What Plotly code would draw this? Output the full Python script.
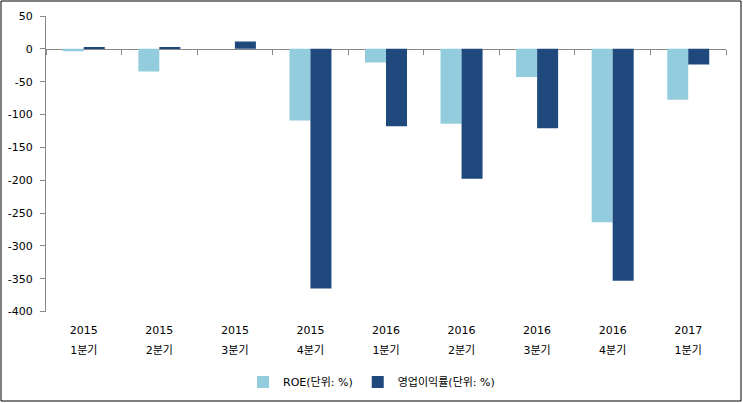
import plotly.graph_objects as go

years = ["2015", "2015", "2015", "2015", "2016", "2016", "2016", "2016", "2017"]
quarters = ["1분기", "2분기", "3분기", "4분기", "1분기", "2분기", "3분기", "4분기", "1분기"]
cats = [f"{y} {q}" for y, q in zip(years, quarters)]
roe = [-3.5, -34.5, 0, -109, -21, -114, -43, -264, -77.5]
op_margin = [2, 2, 11, -365, -118, -198, -121, -353, -24]
series_names = ["ROE(단위: %)", "영업이익률(단위: %)"]
colors = ["#93CDDD", "#1F497D"]
y_ticks = [50, 0, -50, -100, -150, -200, -250, -300, -350, -400]
y_tick_labels = [str(v) for v in y_ticks]  # ASCII hyphen as in the reference

FONT = "DejaVu Sans, Noto Sans CJK KR, sans-serif"
W, H = 743, 403
ML, MR, MT, MB = 46, 17, 16, 40
PW, PH = W - ML - MR, H - MT - MB
plot_bottom = 311.5
ydom0 = 1 - (plot_bottom - MT) / PH

fig = go.Figure()
fig.add_trace(go.Bar(x=cats, y=roe, name=series_names[0], marker_color=colors[0],
                     marker_line_width=0, xaxis="x", yaxis="y"))
fig.add_trace(go.Bar(x=cats, y=op_margin, name=series_names[1], marker_color=colors[1],
                     marker_line_width=0, xaxis="x", yaxis="y"))
# helper traces for the zero axis and the quarter-label axis
fig.add_trace(go.Scatter(x=cats, y=[None] * len(cats), xaxis="x2", yaxis="y",
                         showlegend=False, hoverinfo="skip", mode="markers"))
fig.add_trace(go.Scatter(x=cats, y=[None] * len(cats), xaxis="x3", yaxis="y",
                         showlegend=False, hoverinfo="skip", mode="markers"))

ymin, ymax = -400, 50
zero_pos = ydom0 + (0 - ymin) / (ymax - ymin) * (1 - ydom0)
q_line_px = 349 - 17.5
q_pos = 1 - (q_line_px - MT) / PH

common_x = dict(type="category", categoryorder="array", categoryarray=cats,
                range=[-0.5, len(cats) - 0.5], showgrid=False, zeroline=False)

fig.update_layout(
    width=W, height=H,
    margin=dict(l=ML, r=MR, t=MT, b=MB, autoexpand=False),
    paper_bgcolor="white", plot_bgcolor="white",
    font=dict(family=FONT, size=11, color="#000000"),
    barmode="group", bargap=0.444, bargroupgap=0,
    showlegend=True,
    legend=dict(orientation="h", xref="container", yref="container",
                x=0.5, xanchor="center", y=(H - 382) / H, yanchor="middle",
                font=dict(family=FONT, size=11), itemwidth=30,
                bgcolor="rgba(0,0,0,0)", traceorder="normal"),
    xaxis=dict(**common_x, anchor="y", showline=False, ticks="",
               tickmode="array", tickvals=cats, ticktext=years,
               tickfont=dict(family=FONT, size=11), ticklabelstandoff=10),
    xaxis2=dict(**common_x, overlaying="x", anchor="free", position=zero_pos,
                side="bottom", showline=True, linecolor="#868686", linewidth=1,
                ticks="outside", ticklen=5, tickcolor="#868686", tickwidth=1,
                tickson="boundaries", showticklabels=False, layer="below traces"),
    xaxis3=dict(**common_x, overlaying="x", anchor="free", position=q_pos,
                side="bottom", showline=False, ticks="",
                tickmode="array", tickvals=cats, ticktext=quarters,
                tickfont=dict(family=FONT, size=11), ticklabelstandoff=10),
    yaxis=dict(domain=[ydom0, 1], range=[ymin, ymax],
               tickmode="array", tickvals=y_ticks, ticktext=y_tick_labels,
               showgrid=False, zeroline=False, showline=True,
               linecolor="#868686", linewidth=1, ticks="outside", ticklen=5,
               tickcolor="#868686", tickfont=dict(family=FONT, size=11),
               ticklabelstandoff=5),
)

fig.add_shape(type="rect", xref="paper", yref="paper",
              x0=(1 - ML) / PW, x1=(741 - ML) / PW,
              y0=(H - MB - 401) / PH, y1=(H - MB - 1) / PH,
              line=dict(color="black", width=1), fillcolor="rgba(0,0,0,0)",
              layer="above")

fig.write_html("out.html",
               config={"displayModeBar": False},
               post_script="document.body.style.margin='0';document.body.style.overflow='hidden';")
